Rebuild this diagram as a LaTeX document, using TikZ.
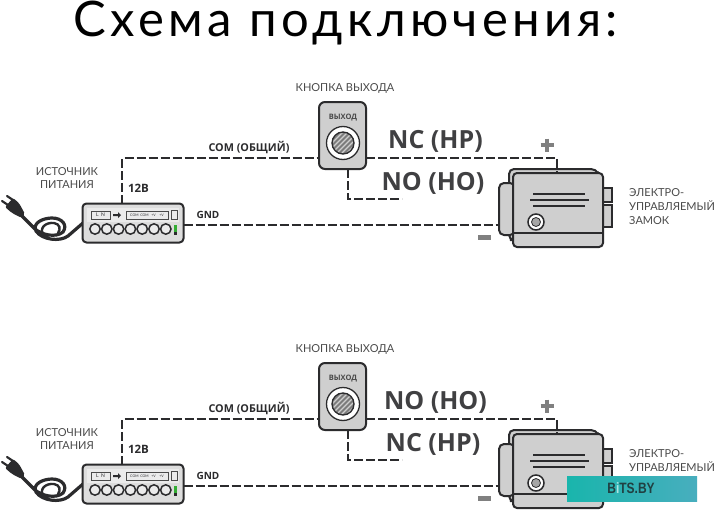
\documentclass[tikz,border=0pt]{standalone}
\usepackage{fontspec}
\setmainfont{Lato}
\newfontfamily\boldf{Open Sans}
\newfontfamily\titlef[LetterSpace=9]{Lato}
\newfontfamily\wmf{Liberation Sans}
\usetikzlibrary{patterns,calc}
\definecolor{ink}{HTML}{2B2B2D}
\definecolor{bodyg}{HTML}{CFCFCF}
\definecolor{lab}{HTML}{4A4A4A}
\definecolor{wml}{HTML}{19B5AC}
\definecolor{wmr}{HTML}{48AEBE}
\tikzset{
 x=1pt,y=-1pt,
 devbox/.style={draw=ink,line width=2pt,rounded corners=4pt,fill=bodyg,minimum width=#1,inner sep=0,outer sep=0},
 wire/.style={draw=ink,line width=1.3pt,dash pattern=on 9pt off 3pt},
 thin part/.style={draw=ink,line width=1.6pt},
 captext/.style={font=\fontsize{11}{13}\selectfont,text=lab,align=center,inner sep=0},
 bold lab/.style={text=ink,inner sep=0},
 big lab/.style={font=\boldf\bfseries\fontsize{25}{28}\selectfont,text=ink!90!white,inner sep=0},
 tiny lab/.style={font=\fontsize{3.5}{4}\selectfont,text=ink,inner sep=0},
 cable/.style={draw=ink,line width=3.2pt,line cap=round},
}
\newcommand{\schemeblock}[4]{%
\begin{scope}[yshift=#2]
 % coiled cable and plug
 \draw[cable] (83,223) -- (68,236) .. controls (60,242) and (42,240) .. (36,231) .. controls (32,223) and (43,218) .. (52,218) .. controls (62,218) and (68,225) .. (63,232) .. controls (56,238) and (42,235) .. (35,229) -- (22,216);
 \draw[cable,line width=2.4pt] (44,236) .. controls (38,228) and (46,222) .. (54,223) .. controls (60,224) and (61,229) .. (58,233);
 \fill[ink,rounded corners=2pt] (5,207) -- (13,198) -- (19,203) -- (25,214) -- (22,218) -- (12,213) -- cycle;
 \draw[ink,line width=2.2pt,line cap=round] (8,205) -- (2,201) (13,200) -- (7,196);
 % power supply
 \node[devbox=101pt,minimum height=39pt,fill=bodyg!70!white] (psu#1) at (133,223) {};
 \fill[white!92!black] (87,208) rectangle (179,222);
 \node[draw=lab,line width=.5pt,minimum width=19pt,minimum height=8pt,inner sep=0,tiny lab,font=\fontsize{5}{5}\selectfont] (ln#1) at (100.5,215) {L\ \ N};
 \fill[ink] (113,214) rectangle (118,216) (118,212) -- (121,215) -- (118,218) -- cycle;
 \node[draw=lab,line width=.5pt,minimum width=42pt,minimum height=8pt,inner sep=0,tiny lab] (cm#1) at (147,215) {COM\ \ COM\ \ \ +V\ \ \ \ +V};
 \node[draw=lab,line width=.4pt,minimum width=6pt,minimum height=9pt,tiny lab] (sm#1) at (174,215) {};
 \foreach \tx in {95,106.8,118.6,130.4,142.2,154,165.8}{\draw[ink,line width=1.5pt,fill=white!92!black] (\tx,229) circle (5.2pt);}
 \fill[green!60!black!80!white] (173.5,225) rectangle (176.5,232);
 \fill[ink] (173.5,232) rectangle (176.5,235);
 % exit button
 \node[devbox=47pt,minimum height=67pt,rounded corners=6pt] (btn#1) at (342.5,135.5) {};
 \node[font=\boldf\bfseries\fontsize{7.5}{8}\selectfont,text=lab,inner sep=0] (btnt#1) at (343,118) {ВЫХОД};
 \draw[ink,line width=1.3pt,fill=white] (343,143) circle (16.5pt);
 \draw[ink,line width=1.3pt,fill=bodyg!60!black] (343,143) circle (11pt);
 \begin{scope}
  \clip (343,143) circle (10pt);
  \foreach \hd in {-16,-11,...,16}{\draw[bodyg,line width=1.2pt] (343+\hd-12,155) -- (343+\hd+12,131);}
 \end{scope}
 % lock
 \draw[thin part,line width=2pt,fill=bodyg,rounded corners=5pt] (509,240) -- (509,169) -- (596,169) -- (600,176) -- (600,200) -- (515,240) -- cycle;
 \draw[thin part,fill=bodyg] (603,188) rectangle (612,202);
 \draw[thin part,fill=bodyg] (603,205) rectangle (612,227);
 \node[devbox=16pt,minimum height=52pt,rounded corners=5pt] (door#1) at (507,209) {};
 \node[devbox=90pt,minimum height=74pt] (lock#1) at (558,210) {};
 \draw[ink,line width=1.6pt] (lock#1.west |- 0,233) coordinate (ba#1) -- (lock#1.east |- ba#1);
 \draw[ink,line width=1.3pt] (533,194) -- (585,194) (530,200) -- (589,200) (533,206) -- (585,206);
 \draw[ink,line width=1.5pt,fill=white] (536,222) circle (8pt);
 \draw[ink,line width=.8pt,fill=bodyg!80!black] (536,222) circle (4.5pt);
 % wiring
 \coordinate (comturn#1) at (122,158);
 \coordinate (lockturn#1) at (557,158);
 \coordinate (noturn#1) at (348,199);
 \coordinate (noend#1) at (402,199);
 \draw[wire] (psu#1.north -| comturn#1) -- (comturn#1) -- (btn#1.west |- comturn#1);
 \draw[wire] (btn#1.east |- lockturn#1) -- (lockturn#1) -- (lock#1.north -| lockturn#1);
 \draw[wire] (btn#1.south -| noturn#1) -- (noturn#1) -- (noend#1);
 \coordinate (gndy#1) at (190,225);
 \draw[wire] (psu#1.east |- gndy#1) -- (door#1.west |- gndy#1);
 % labels
 \node[captext] (t1#1) at (67,178) {ИСТОЧНИК\\[0pt]ПИТАНИЯ};
 \node[captext] (t2#1) at (345,88) {КНОПКА ВЫХОДА};
 \node[bold lab,font=\boldf\bfseries\fontsize{10.8}{12}\selectfont] (t3#1) at (249,148) {COM (ОБЩИЙ)};
 \node[bold lab,font=\boldf\bfseries\fontsize{11.5}{13}\selectfont] (t4#1) at (138.5,188) {12В};
 \node[bold lab,font=\boldf\bfseries\fontsize{10}{12}\selectfont] (t5#1) at (208,215) {GND};
 \node[big lab] (t6#1) at (435.5,141) {#3};
 \node[big lab] (t7#1) at (433,183) {#4};
 \node[captext,align=left,anchor=north west,font=\fontsize{11}{14}\selectfont] (t8#1) at (629,188.5) {ЭЛЕКТРО-\\УПРАВЛЯЕМЫЙ\\ЗАМОК};
 \draw[gray,line width=4.5pt] (540.5,145) -- (553.5,145) (547,138.5) -- (547,151.5);
 \fill[gray] (478,235) rectangle (491,240);
\end{scope}}
\begin{document}
\begin{tikzpicture}
 \useasboundingbox (0,0) rectangle (715,511);
 \fill[white] (0,0) rectangle (715,511);
 \node[anchor=base,font=\titlef\fontsize{49}{52}\selectfont,text=black,inner sep=0] (title) at (346,37) {Схема подключения:};
 \schemeblock{a}{0pt}{NC (HP)}{NO (HO)}
 \schemeblock{b}{-261pt}{NO (HO)}{NC (HP)}
 \node[left color=wml,right color=wmr,minimum width=130pt,minimum height=25pt,inner sep=0] (wm) at (632,488.5) {};
 \node[font=\wmf\bfseries\fontsize{15}{15}\selectfont,text=ink!75!teal,inner sep=0,xscale=.8] (wmt) at (631,488.5) {B{\color{white!65!wml}i}TS.BY};
\end{tikzpicture}
\end{document}
